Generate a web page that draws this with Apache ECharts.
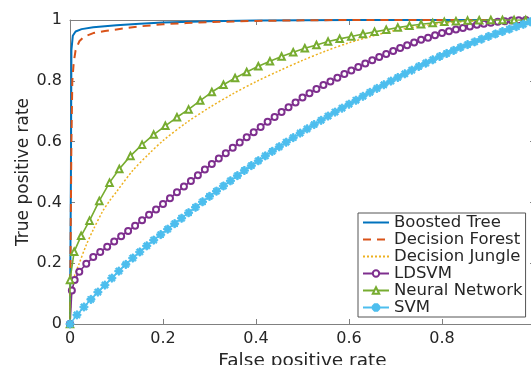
<!DOCTYPE html>
<html>
<head>
<meta charset="utf-8">
<script src="https://cdn.jsdelivr.net/npm/echarts@6/dist/echarts.min.js"></script>
<style>
html,body{margin:0;padding:0;background:#fff;}
#chart{width:531px;height:365px;}
</style>
</head>
<body>
<div id="chart"></div>
<script>
const seriesNames = ['Boosted Tree', 'Decision Forest', 'Decision Jungle', 'LDSVM', 'Neural Network', 'SVM'];
const xTicks = [0, 0.2, 0.4, 0.6, 0.8, 1];
const yTicks = [0, 0.2, 0.4, 0.6, 0.8, 1];

const boostedTree = [[0,0],[0.002,0.5],[0.003,0.9],[0.006,0.948],[0.012,0.962],[0.025,0.97],[0.05,0.976],[0.1,0.983],[0.15,0.988],[0.2,0.992],[0.3,0.996],[0.4,0.998],[0.5,0.999],[0.6,1],[1,1]];

const decisionForest = [[0,0],[0.003,0.6],[0.005,0.8],[0.008,0.86],[0.012,0.9],[0.02,0.93],[0.03,0.945],[0.05,0.957],[0.075,0.964],[0.1,0.969],[0.15,0.979],[0.2,0.986],[0.25,0.99],[0.3,0.993],[0.4,0.997],[0.5,0.999],[0.6,1],[1,1]];

const decisionJungle = [[0,0],[0.002,0.08],[0.006,0.13],[0.01,0.16],[0.02,0.2],[0.035,0.26],[0.05,0.31],[0.07,0.37],[0.085,0.405],[0.1,0.435],[0.135,0.505],[0.17,0.56],[0.2,0.603],[0.25,0.662],[0.3,0.712],[0.35,0.757],[0.4,0.797],[0.45,0.833],[0.5,0.867],[0.55,0.898],[0.6,0.925],[0.65,0.947],[0.7,0.966],[0.75,0.979],[0.8,0.989],[0.85,0.995],[0.9,0.999],[1,1]];

const ldsvm = [[0,0],[0.004,0.11],[0.01,0.145],[0.02,0.172],[0.035,0.198],[0.05,0.22],[0.065,0.237],[0.08,0.254],[0.095,0.271],[0.11,0.289],[0.125,0.306],[0.14,0.323],[0.155,0.341],[0.17,0.359],[0.185,0.377],[0.2,0.395],[0.215,0.414],[0.23,0.433],[0.245,0.452],[0.26,0.47],[0.275,0.489],[0.29,0.508],[0.305,0.526],[0.32,0.544],[0.335,0.562],[0.35,0.58],[0.365,0.597],[0.38,0.614],[0.395,0.631],[0.41,0.648],[0.425,0.665],[0.44,0.681],[0.455,0.697],[0.47,0.713],[0.485,0.729],[0.5,0.745],[0.515,0.759],[0.53,0.773],[0.545,0.786],[0.56,0.798],[0.575,0.81],[0.59,0.822],[0.605,0.834],[0.62,0.845],[0.635,0.857],[0.65,0.868],[0.665,0.878],[0.68,0.888],[0.695,0.898],[0.71,0.908],[0.725,0.917],[0.74,0.926],[0.755,0.935],[0.77,0.942],[0.785,0.95],[0.8,0.957],[0.815,0.963],[0.83,0.969],[0.845,0.974],[0.86,0.979],[0.875,0.984],[0.89,0.988],[0.905,0.991],[0.92,0.994],[0.935,0.996],[0.95,0.998],[0.965,0.999],[0.98,1],[1,1]];

const neuralNetwork = [[0,0],[0,0.145],[0.009,0.238],[0.024,0.29],[0.042,0.34],[0.063,0.405],[0.085,0.465],[0.106,0.51],[0.13,0.553],[0.155,0.59],[0.18,0.623],[0.205,0.652],[0.23,0.68],[0.255,0.706],[0.28,0.735],[0.305,0.763],[0.33,0.787],[0.355,0.809],[0.38,0.829],[0.405,0.848],[0.43,0.864],[0.455,0.88],[0.48,0.894],[0.505,0.907],[0.53,0.918],[0.555,0.929],[0.58,0.938],[0.605,0.946],[0.63,0.954],[0.655,0.961],[0.68,0.968],[0.705,0.975],[0.73,0.981],[0.755,0.986],[0.78,0.99],[0.805,0.994],[0.83,0.996],[0.855,0.998],[0.88,0.999],[0.905,1],[0.93,1],[0.955,1],[0.98,1],[1,1]];

const svm = [[0,0],[0.015,0.03],[0.03,0.056],[0.045,0.081],[0.06,0.105],[0.075,0.128],[0.09,0.151],[0.105,0.174],[0.12,0.196],[0.135,0.217],[0.15,0.237],[0.165,0.257],[0.18,0.276],[0.195,0.294],[0.21,0.312],[0.225,0.33],[0.24,0.348],[0.255,0.366],[0.27,0.384],[0.285,0.402],[0.3,0.42],[0.315,0.437],[0.33,0.454],[0.345,0.471],[0.36,0.488],[0.375,0.505],[0.39,0.521],[0.405,0.537],[0.42,0.553],[0.435,0.568],[0.45,0.583],[0.465,0.598],[0.48,0.613],[0.495,0.628],[0.51,0.642],[0.525,0.656],[0.54,0.67],[0.555,0.684],[0.57,0.697],[0.585,0.71],[0.6,0.723],[0.615,0.736],[0.63,0.749],[0.645,0.762],[0.66,0.775],[0.675,0.787],[0.69,0.799],[0.705,0.811],[0.72,0.823],[0.735,0.835],[0.75,0.847],[0.765,0.858],[0.78,0.869],[0.795,0.88],[0.81,0.89],[0.825,0.9],[0.84,0.91],[0.855,0.919],[0.87,0.928],[0.885,0.937],[0.9,0.946],[0.915,0.954],[0.93,0.962],[0.945,0.97],[0.96,0.978],[0.975,0.986],[0.99,0.994],[1,1]];

const seriesData = [boostedTree, decisionForest, decisionJungle, ldsvm, neuralNetwork, svm];

const FONT = 'DejaVu Sans';
const TXT = '#262626';
const AX = '#808080';
const asterisk = 'path://M-5,-1L5,-1L5,1L-5,1ZM-1,-5L1,-5L1,5L-1,5ZM-2.83,-4.25L4.25,2.83L2.83,4.25L-4.25,-2.83ZM-4.25,2.83L2.83,-4.25L4.25,-2.83L-2.83,4.25Z';

const styles = [
  {color:'#0072BD', lineStyle:{width:2, type:'solid'}, symbol:'none'},
  {color:'#D95319', lineStyle:{width:2, type:[8,6]}, symbol:'none'},
  {color:'#EDB120', lineStyle:{width:1.5, type:[2,2]}, symbol:'none'},
  {color:'#7E2F8E', lineStyle:{width:1.6, type:'solid'}, symbol:'emptyCircle', symbolSize:6, borderWidth:1.5},
  {color:'#77AC30', lineStyle:{width:1.6, type:'solid'}, symbol:'emptyTriangle', symbolSize:6.5, borderWidth:1.5},
  {color:'#4DBEEE', lineStyle:{width:1.6, type:'solid'}, symbol:asterisk, symbolSize:8}
];

const series = seriesNames.map((name, i) => {
  const s = styles[i];
  const o = {
    name: name,
    type: 'line',
    data: seriesData[i],
    showAllSymbol: true,
    symbol: s.symbol,
    symbolSize: s.symbolSize || 4,
    lineStyle: {color: s.color, width: s.lineStyle.width, type: s.lineStyle.type},
    itemStyle: {color: s.color, borderColor: s.color, borderWidth: s.borderWidth || 1},
    z: 2 + i,
    animation: false,
    emphasis: {disabled: true}
  };
  if (name === 'Decision Jungle') o.smooth = 0.3;
  return o;
});

const legendData = seriesNames.map((name, i) => {
  if (styles[i].symbol === 'none') {
    return {name: name, itemStyle: {opacity: 0, borderWidth: 0}};
  }
  return {name: name};
});

const chart = echarts.init(document.getElementById('chart'), null, {renderer:'canvas'});
chart.setOption({
  backgroundColor: '#fff',
  animation: false,
  grid: {left:70, top:20, right:-4, bottom:41, containLabel:false, outerBoundsMode:'none'},
  legend: {
    data: legendData,
    orient: 'vertical',
    left: 358, top: 213,
    padding: [1, 3, 1, 4],
    itemGap: 0,
    itemWidth: 26,
    itemHeight: 8,
    backgroundColor: '#fff',
    borderColor: '#555',
    borderWidth: 1,
    borderRadius: 0,
    textStyle: {fontFamily: FONT, fontSize: 16.5, color: TXT, lineHeight: 17}
  },
  xAxis: [{
    type: 'value', min: xTicks[0], max: xTicks[xTicks.length-1], interval: 0.2,
    position: 'bottom',
    name: 'False positive rate', nameLocation: 'middle', nameGap: 28, nameMoveOverlap: false,
    nameTextStyle: {fontFamily: FONT, fontSize: 18.5, color: TXT},
    axisLine: {show:true, onZero:false, lineStyle:{color:AX, width:1}},
    axisTick: {show:true, inside:true, length:5, lineStyle:{color:AX}},
    axisLabel: {fontFamily: FONT, fontSize: 16, color: TXT, margin: 7},
    splitLine: {show:false}
  },{
    type: 'value', min: xTicks[0], max: xTicks[xTicks.length-1], interval: 0.2,
    position: 'top',
    axisLine: {show:true, onZero:false, lineStyle:{color:AX, width:1}},
    axisTick: {show:true, inside:true, length:5, lineStyle:{color:AX}},
    axisLabel: {show:false},
    splitLine: {show:false}
  }],
  yAxis: [{
    type: 'value', min: yTicks[0], max: yTicks[yTicks.length-1], interval: 0.2,
    position: 'left',
    name: 'True positive rate', nameLocation: 'middle', nameGap: 38, nameMoveOverlap: false,
    nameTextStyle: {fontFamily: FONT, fontSize: 17, color: TXT},
    axisLine: {show:true, onZero:false, lineStyle:{color:AX, width:1}},
    axisTick: {show:true, inside:true, length:5, lineStyle:{color:AX}},
    axisLabel: {fontFamily: FONT, fontSize: 16, color: TXT, margin: 8},
    splitLine: {show:false}
  },{
    type: 'value', min: yTicks[0], max: yTicks[yTicks.length-1], interval: 0.2,
    position: 'right',
    axisLine: {show:true, onZero:false, lineStyle:{color:AX, width:1}},
    axisTick: {show:true, inside:true, length:5, lineStyle:{color:AX}},
    axisLabel: {show:false},
    splitLine: {show:false}
  }],
  series: series
});
</script>
</body>
</html>
